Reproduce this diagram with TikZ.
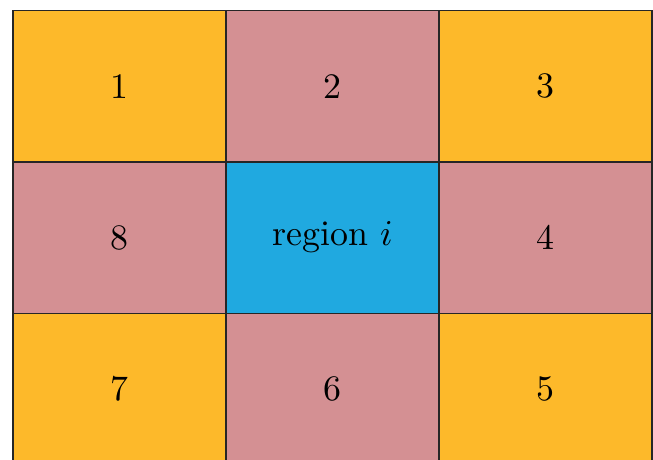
\documentclass[tikz,border=0pt]{standalone}
\usepackage{amsmath,amssymb}
\usepackage{xcolor}
\usepackage{tikz}
\usetikzlibrary{positioning}
\definecolor{cornerorange}{HTML}{FDB92A}
\definecolor{edgepink}{HTML}{D49093}
\definecolor{centreblue}{HTML}{20A9E0}
\tikzset{
  cellbox/.style={
    draw=black!85,
    line width=0.4pt,
    minimum width=2.254cm,
    minimum height=1.603cm,
    inner sep=0pt,
    outer sep=0pt,
    font=\fontsize{10.8}{13}\selectfont
  },
  cornercell/.style={cellbox, fill=cornerorange},
  edgecell/.style={cellbox, fill=edgepink},
  centrecell/.style={cellbox, fill=centreblue}
}
\begin{document}
\begin{tikzpicture}[node distance=0pt]
  \useasboundingbox (0,0) rectangle (6.911,4.868);
  \clip (0,0) rectangle (6.911,4.868);
  % top row
  \node[cornercell,anchor=north west] (c1) at (0.138,4.757) {1};
  \node[edgecell,right=of c1] (c2) {2};
  \node[cornercell,right=of c2] (c3) {3};
  % middle row
  \node[edgecell,below=of c1] (c8) {8};
  \node[centrecell,right=of c8] (ci) {region $i$};
  \node[edgecell,right=of ci] (c4) {4};
  % bottom row
  \node[cornercell,below=of c8] (c7) {7};
  \node[edgecell,right=of c7] (c6) {6};
  \node[cornercell,right=of c6] (c5) {5};
\end{tikzpicture}
\end{document}
